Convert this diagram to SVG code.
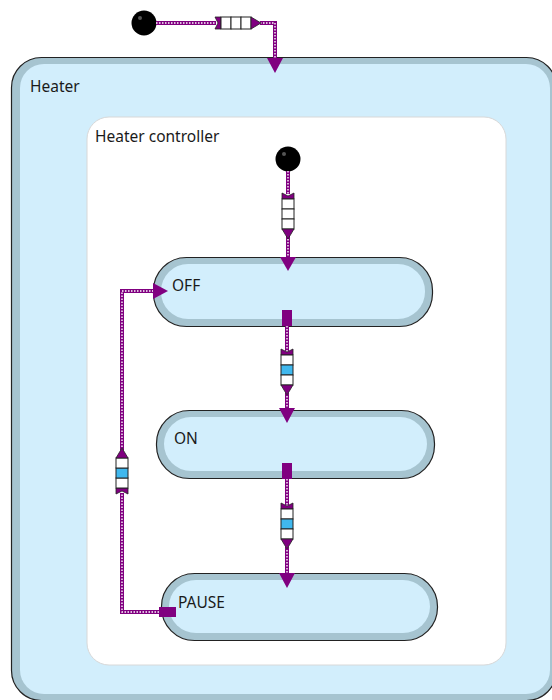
<svg xmlns="http://www.w3.org/2000/svg" width="552" height="700" viewBox="0 0 552 700">
<style>
.lbl{font-family:"Noto Sans","Open Sans","DejaVu Sans",sans-serif;font-size:15.5px;fill:#1a1a1a}
.band{fill:#a6c4d0;stroke:#222;stroke-width:1.2}
.fill{fill:#d2eefc}
.ln{fill:none;stroke:#800080;stroke-width:4}
.dot{fill:none;stroke:#fff;stroke-width:1.4;stroke-dasharray:1.5 1.5}
.ah{fill:#800080}
.cell{fill:#fff;stroke:#222;stroke-width:1}
.cellb{fill:#40b8ee;stroke:#222;stroke-width:1}
.qp{fill:#800080;stroke:#222;stroke-width:0.8}
</style>
<defs>
<g id="q">
<polygon class="qp" points="0,-6 6,-6 6,6 0,6 3,0"/>
<rect class="cell" x="6" y="-6" width="10" height="12"/>
<rect class="cell" x="16" y="-6" width="10" height="12"/>
<rect class="cell" x="26" y="-6" width="10" height="12"/>
<polygon class="qp" points="36,-6 46,0 36,6"/>
</g>
<g id="qb">
<polygon class="qp" points="0,-6 6,-6 6,6 0,6 3,0"/>
<rect class="cell" x="6" y="-6" width="10" height="12"/>
<rect class="cellb" x="16" y="-6" width="10" height="12"/>
<rect class="cell" x="26" y="-6" width="10" height="12"/>
<polygon class="qp" points="36,-6 46,0 36,6"/>
</g>
</defs>
<rect width="552" height="700" fill="#fff"/>
<g id="heater">
<rect class="band" x="11.5" y="57.5" width="545" height="643" rx="30"/>
<rect class="fill" x="20" y="64" width="530" height="630" rx="24"/>
<text class="lbl" x="30" y="92">Heater</text>
</g>
<g id="heater-controller">
<rect x="87" y="117" width="419" height="548" rx="22" fill="#fff" stroke="#d8d8d8" stroke-width="1"/>
<text class="lbl" x="95" y="142">Heater controller</text>
</g>
<g id="init-top">
<circle cx="144" cy="23" r="12.5" fill="#000"/>
<circle cx="140" cy="18" r="2" fill="#555"/>
</g>
<g id="init-inner">
<circle cx="288" cy="159" r="12.5" fill="#000"/>
<circle cx="284" cy="154" r="2" fill="#555"/>
</g>
<g id="off">
<rect class="band" x="153.5" y="257.5" width="279" height="69" rx="33"/>
<rect class="fill" x="161" y="264" width="264" height="55" rx="27"/>
<text class="lbl" x="172" y="291">OFF</text>
</g>
<g id="on">
<rect class="band" x="156.5" y="410.5" width="278" height="68" rx="33"/>
<rect class="fill" x="164" y="417" width="263" height="54" rx="27"/>
<text class="lbl" x="174" y="444">ON</text>
</g>
<g id="pause">
<rect class="band" x="161.5" y="573.5" width="276" height="67" rx="33"/>
<rect class="fill" x="169" y="580" width="261" height="53" rx="27"/>
<text class="lbl" x="178" y="608">PAUSE</text>
</g>
<g id="connectors">
<polyline class="ln" points="156,23 216,23"/>
<polyline class="dot" points="156,23 216,23"/>
<polyline class="ln" points="260,23 275,23 275,60"/>
<polyline class="dot" points="260,23 275,23 275,60"/>
<use href="#q" transform="translate(215,23)"/>
<polygon class="ah" points="267,58 283,58 275,73"/>
<polyline class="ln" points="288,171 288,194"/>
<polyline class="dot" points="288,171 288,194"/>
<polyline class="ln" points="288,236 288,258"/>
<polyline class="dot" points="288,236 288,258"/>
<use href="#q" transform="translate(288,193) rotate(90)"/>
<polygon class="ah" points="280,257 296,257 288,271"/>
<rect class="ah" x="282" y="310" width="10" height="16"/>
<polyline class="ln" points="287,326 287,351"/>
<polyline class="dot" points="287,326 287,351"/>
<polyline class="ln" points="287,393 287,410"/>
<polyline class="dot" points="287,393 287,410"/>
<use href="#qb" transform="translate(287,349) rotate(90)"/>
<polygon class="ah" points="279,408 295,408 287,423"/>
<rect class="ah" x="282" y="463" width="10" height="16"/>
<polyline class="ln" points="287,479 287,505"/>
<polyline class="dot" points="287,479 287,505"/>
<polyline class="ln" points="287,547 287,574"/>
<polyline class="dot" points="287,547 287,574"/>
<use href="#qb" transform="translate(287,503) rotate(90)"/>
<polygon class="ah" points="279,573 295,573 287,588"/>
<rect class="ah" x="159" y="607" width="17" height="10"/>
<polyline class="ln" points="159,612 122,612 122,493"/>
<polyline class="dot" points="159,612 122,612 122,493"/>
<polyline class="ln" points="122,450 122,291 155,291"/>
<polyline class="dot" points="122,450 122,291 155,291"/>
<use href="#qb" transform="translate(122,494) rotate(-90)"/>
<polygon class="ah" points="153,283 153,299 168,291"/>
</g>
</svg>
